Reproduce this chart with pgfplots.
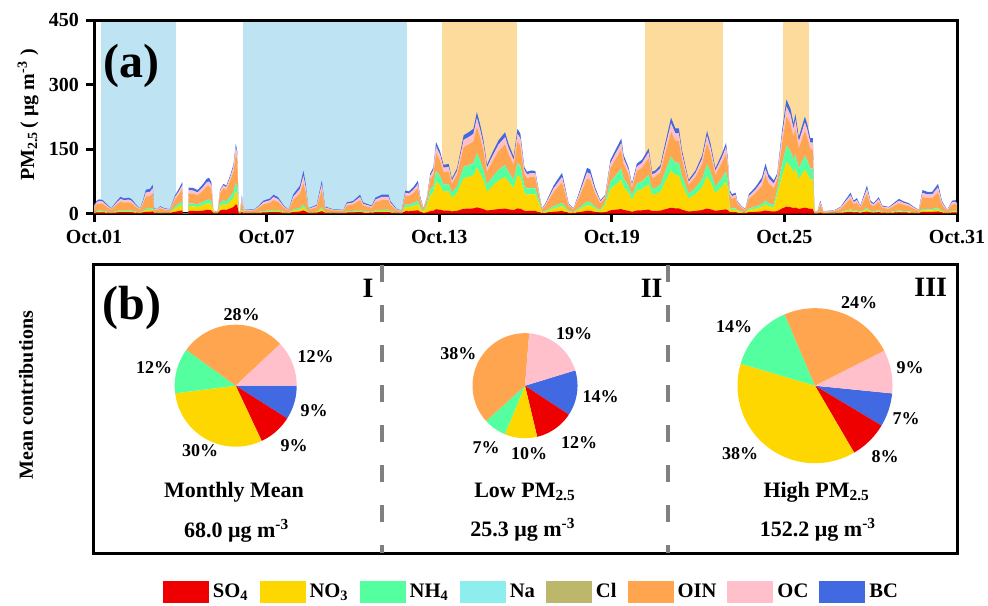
\documentclass[border=0pt]{standalone}
\usepackage{fontspec}
\setmainfont{Liberation Serif}
\usepackage{pgfplots}
\pgfplotsset{compat=1.18}
\usepackage{pgfplotstable}
\definecolor{cSO}{RGB}{238,0,0}
\definecolor{cNO}{RGB}{255,215,0}
\definecolor{cNH}{RGB}{84,255,159}
\definecolor{cNa}{RGB}{142,238,238}
\definecolor{cCl}{RGB}{189,183,107}
\definecolor{cOIN}{RGB}{255,165,79}
\definecolor{cOC}{RGB}{255,192,203}
\definecolor{cBC}{RGB}{65,105,225}
\definecolor{shB}{RGB}{190,227,242}
\definecolor{shO}{RGB}{252,219,156}
\definecolor{dgray}{RGB}{128,128,128}

\pgfplotstableread{
t so4 no3 nh4 na cl oin oc bc
0.00 1.4 1.4 1.0 0.3 0.2 10 3.4 2.4
0.10 2.1 2.1 1.5 0.3 0.2 15 5.1 3.6
0.17 2.3 2.3 1.7 0.3 0.2 16.5 5.6 4.0
0.30 2.2 2.2 1.6 0.3 0.2 16 5.4 3.8
0.42 1.6 1.6 1.2 0.3 0.2 11.5 3.9 2.8
0.60 0.8 0.8 0.6 0.3 0.2 6 2.0 1.4
0.80 2.1 2.1 1.5 0.3 0.2 15 5.1 3.6
0.92 2.7 2.7 2.0 0.3 0.2 19.5 6.6 4.7
1.05 2.5 2.5 1.8 0.3 0.2 17.5 6.0 4.2
1.20 2.6 2.6 1.9 0.3 0.2 18.5 6.3 4.4
1.30 2.4 2.4 1.7 0.3 0.2 17 5.8 4.1
1.45 1.5 1.5 1.1 0.3 0.2 11 3.7 2.6
1.60 0.8 0.8 0.6 0.3 0.2 6 2.0 1.4
1.70 2.1 2.1 1.5 0.3 0.2 15 5.1 3.6
1.80 3.9 3.9 2.8 0.3 0.2 28 9.5 6.7
1.95 4.1 4.1 2.9 0.3 0.2 29 9.9 7.0
2.04 4.8 4.8 3.4 0.3 0.2 34 11.6 8.2
2.09 0.8 0.8 0.6 0.3 0.2 6 2.0 1.4
2.20 0.7 0.7 0.5 0.3 0.2 5 1.7 1.2
2.30 1.2 1.2 0.9 0.3 0.2 8.5 2.9 2.0
2.45 0.8 0.8 0.6 0.3 0.2 6 2.0 1.4
2.64 0.7 0.7 0.5 0.3 0.2 5 1.7 1.2
2.82 4.3 7.7 4.3 0.3 0.2 16.3 5.2 4.3
2.95 5.8 10.4 5.8 0.3 0.2 22 7.0 5.8
3.07 7.4 13.3 7.4 0.3 0.2 28.1 8.9 7.4
3.09 0 0 0 0 0 0 0 0
3.27 0 0 0 0 0 0 0 0
3.29 6.1 11.0 6.1 0.3 0.2 23.2 7.3 6.1
3.45 6.0 10.8 6.0 0.3 0.2 22.8 7.2 6.0
3.60 5.5 9.9 5.5 0.3 0.2 20.9 6.6 5.5
3.80 7.0 12.6 7.0 0.3 0.2 26.6 8.4 7.0
3.92 8.2 14.8 8.2 0.3 0.2 31.2 9.8 8.2
4.00 8.4 15.1 8.4 0.3 0.2 31.9 10.1 8.4
4.08 7.4 13.3 7.4 0.3 0.2 28.1 8.9 7.4
4.15 0.6 1.1 0.6 0.3 0.2 2.3 0.7 0.6
4.30 0.5 0.9 0.5 0.3 0.2 1.9 0.6 0.5
4.38 7.2 9.9 6.6 0.3 0.2 22.6 5.0 2.8
4.50 9.1 12.6 8.4 0.3 0.2 28.7 6.3 3.5
4.60 8.5 11.7 7.8 0.3 0.2 26.7 5.9 3.3
4.73 11.6 16.0 10.7 0.3 0.2 36.5 8.0 4.5
4.85 15.1 20.9 13.9 0.3 0.2 47.6 10.4 5.8
4.93 21.5 29.7 19.8 0.3 0.2 67.7 14.9 8.3
4.98 19.1 26.5 17.6 0.3 0.2 60.3 13.2 7.4
5.03 0.4 0.4 0.3 0.3 0.2 2.5 0.9 0.6
5.08 0.4 0.4 0.3 0.3 0.2 2.5 0.9 0.6
5.14 3.0 3.0 2.2 0.3 0.2 21.5 7.3 5.2
5.20 0.6 0.6 0.4 0.3 0.2 4 1.4 1.0
5.60 0.7 0.7 0.5 0.3 0.2 5 1.7 1.2
5.75 1.4 1.4 1.0 0.3 0.2 10 3.4 2.4
5.89 2.1 2.1 1.5 0.3 0.2 15 5.1 3.6
6.12 2.5 2.5 1.8 0.3 0.2 17.5 6.0 4.2
6.24 3.1 3.1 2.2 0.3 0.2 22 7.5 5.3
6.40 2.7 2.7 1.9 0.3 0.2 19 6.5 4.6
6.58 1.4 1.4 1.0 0.3 0.2 10 3.4 2.4
6.76 0.6 0.6 0.4 0.3 0.2 4 1.4 1.0
6.93 3.2 3.2 2.3 0.3 0.2 22.5 7.7 5.4
7.16 4.6 4.6 3.3 0.3 0.2 33 11.2 7.9
7.28 7.1 7.1 5.1 0.3 0.2 50.5 17.2 12.1
7.36 4.9 4.9 3.5 0.3 0.2 35 11.9 8.4
7.45 0.8 0.8 0.6 0.3 0.2 6 2.0 1.4
7.74 1.4 1.4 1.0 0.3 0.2 10 3.4 2.4
7.92 5.5 5.5 3.9 0.3 0.2 39 13.3 9.4
8.03 1.1 1.1 0.8 0.3 0.2 8 2.7 1.9
8.30 0.7 0.7 0.5 0.3 0.2 5 1.7 1.2
8.67 0.6 0.6 0.4 0.3 0.2 4 1.4 1.0
8.79 1.8 1.8 1.3 0.3 0.2 13 4.4 3.1
9.00 2.0 2.0 1.5 0.3 0.2 14.5 4.9 3.5
9.25 3.1 3.1 2.2 0.3 0.2 22 7.5 5.3
9.35 1.8 1.8 1.3 0.3 0.2 13 4.4 3.1
9.66 1.3 1.3 0.9 0.3 0.2 9 3.1 2.2
9.78 2.6 2.6 1.9 0.3 0.2 18.5 6.3 4.4
10.00 3.1 3.1 2.2 0.3 0.2 22 7.5 5.3
10.24 3.1 3.1 2.2 0.3 0.2 22 7.5 5.3
10.30 2.0 2.0 1.5 0.3 0.2 14.5 4.9 3.5
10.53 0.7 0.7 0.5 0.3 0.2 5 1.7 1.2
10.70 0.5 0.5 0.4 0.3 0.2 3.5 1.2 0.8
10.82 5.4 9.7 5.4 0.3 0.2 20.5 6.5 5.4
10.95 5.2 9.4 5.2 0.3 0.2 19.8 6.2 5.2
11.10 6.2 11.2 6.2 0.3 0.2 23.6 7.4 6.2
11.26 7.7 13.9 7.7 0.3 0.2 29.3 9.2 7.7
11.34 4.0 7.2 4.0 0.3 0.2 15.2 4.8 4.0
11.45 1.2 2.2 1.2 0.3 0.2 4.6 1.4 1.2
11.57 2.2 14.4 5.2 0.3 0.2 9.3 3.3 2.2
11.69 5.6 36.3 13.0 0.5 0.5 23.3 8.4 5.6
11.80 6.5 42.1 15.1 0.5 0.5 27 9.7 6.5
11.89 10.0 64.7 23.2 0.8 0.8 41.5 14.9 10.0
12.03 8.7 56.6 20.3 0.7 0.7 36.3 13.1 8.7
12.15 6.8 44.1 15.8 0.6 0.6 28.3 10.2 6.8
12.33 6.9 44.9 16.1 0.6 0.6 28.8 10.4 6.9
12.44 4.9 31.6 11.3 0.4 0.4 20.3 7.3 4.9
12.62 6.3 41.0 14.7 0.5 0.5 26.3 9.5 6.3
12.85 10.9 71.0 25.5 0.9 0.9 45.5 16.4 10.9
13.02 11.3 73.7 26.5 0.9 0.9 47.3 17.0 11.3
13.19 11.8 76.8 27.6 1 1 49.3 17.7 11.8
13.31 14.2 92.0 33.0 1.2 1.2 59 21.2 14.2
13.43 12.3 80.0 28.7 1 1 51.3 18.5 12.3
13.54 10.2 66.3 23.8 0.9 0.9 42.5 15.3 10.2
13.66 7.0 44.0 16.0 0.6 0.6 28 10.2 6.8
13.83 8.3 54.2 19.5 0.7 0.7 34.8 12.5 8.3
14.06 10.2 66.3 23.8 0.9 0.9 42.5 15.3 10.2
14.29 11.3 73.7 26.5 0.9 0.9 47.3 17.0 11.3
14.41 9.7 63.2 22.7 0.8 0.8 40.5 14.6 9.7
14.59 7.9 51.5 18.5 0.7 0.7 33 11.9 7.9
14.72 11.8 76.8 27.6 1 1 49.3 17.7 11.8
14.82 11.2 72.5 26.0 0.9 0.9 46.5 16.7 11.2
14.96 6.5 42.1 15.1 0.5 0.5 27 9.7 6.5
15.05 5.8 37.8 13.6 0.5 0.5 24.3 8.7 5.8
15.20 6.0 39.0 14.0 0.5 0.5 25 9.0 6.0
15.34 5.9 38.6 13.9 0.5 0.5 24.8 8.9 5.9
15.46 3.2 21.1 7.6 0.3 0.3 13.5 4.9 3.2
15.57 0.7 1.4 0.8 0.3 0.2 6 1.6 1.2
15.69 1.4 2.8 1.6 0.3 0.2 11.5 3.0 2.3
15.98 4.0 7.9 4.6 0.3 0.2 33 8.6 6.6
16.27 5.8 11.5 6.7 0.3 0.2 48 12.5 9.6
16.38 3.7 7.4 4.3 0.3 0.2 31 8.1 6.2
16.50 1.4 2.8 1.6 0.3 0.2 11.5 3.0 2.3
16.67 0.7 1.4 0.8 0.3 0.2 6 1.6 1.2
16.85 2.8 5.6 3.3 0.3 0.2 23.5 6.1 4.7
17.14 6.5 13.0 7.6 0.3 0.2 54 14.0 10.8
17.25 6.2 12.5 7.3 0.3 0.2 52 13.5 10.4
17.42 3.7 7.4 4.3 0.3 0.2 31 8.1 6.2
17.60 1.9 3.7 2.2 0.3 0.2 15.5 4.0 3.1
17.77 2.6 16.8 6.0 0.3 0.2 10.8 3.9 2.6
17.95 7.4 48.4 17.4 0.6 0.6 31 11.2 7.4
18.12 8.8 57.3 20.6 0.7 0.7 36.8 13.2 8.8
18.33 10.4 67.9 24.4 0.9 0.9 43.5 15.7 10.4
18.41 8.2 53.0 19.0 0.7 0.7 34 12.2 8.2
18.58 6.5 42.1 15.1 0.5 0.5 27 9.7 6.5
18.70 4.2 27.3 9.8 0.4 0.4 17.5 6.3 4.2
18.87 7.0 45.2 16.2 0.6 0.6 29 10.4 7.0
19.05 7.5 48.8 17.5 0.6 0.6 31.3 11.3 7.5
19.28 9.1 58.9 21.1 0.8 0.8 37.8 13.6 9.1
19.40 5.8 37.8 13.6 0.5 0.5 24.3 8.7 5.8
19.51 6.0 39.0 14.0 0.5 0.5 25 9.0 6.0
19.69 6.7 43.7 15.7 0.6 0.6 28 10.1 6.7
19.80 8.8 57.3 20.6 0.7 0.7 36.8 13.2 8.8
20.06 13.4 87.0 31.2 1.1 1.1 55.8 20.1 13.4
20.21 11.9 77.2 27.7 1 1 49.5 17.8 11.9
20.33 11.9 77.2 27.7 1 1 49.5 17.8 11.9
20.44 8.8 57.3 20.6 0.7 0.7 36.8 13.2 8.8
20.67 4.7 30.4 10.9 0.4 0.4 19.5 7.0 4.7
20.91 6.0 39.0 14.0 0.5 0.5 25 9.0 6.0
21.14 8.1 52.7 18.9 0.7 0.7 33.8 12.2 8.1
21.31 11.5 74.9 26.9 1 1 48 17.3 11.5
21.43 9.8 63.6 22.8 0.8 0.8 40.8 14.7 9.8
21.60 6.3 41.0 14.7 0.5 0.5 26.3 9.5 6.3
21.83 8.3 54.2 19.5 0.7 0.7 34.8 12.5 8.3
21.97 9.8 64.0 23.0 0.8 0.8 41 14.8 9.8
22.03 7.9 51.1 18.3 0.7 0.7 32.8 11.8 7.9
22.10 3.3 6.6 3.9 0.3 0.2 27.5 7.2 5.5
22.18 2.7 5.4 3.2 0.3 0.2 22.5 5.9 4.5
22.30 2.9 5.9 3.4 0.3 0.2 24.5 6.4 4.9
22.37 1.7 3.4 2.0 0.3 0.2 14 3.6 2.8
22.53 1.0 1.9 1.1 0.3 0.2 8 2.1 1.6
22.64 0.6 1.2 0.7 0.3 0.2 5 1.3 1.0
22.76 2.7 5.4 3.2 0.3 0.2 22.5 5.9 4.5
22.99 3.7 7.4 4.3 0.3 0.2 31 8.1 6.2
23.22 5.1 10.2 6.0 0.3 0.2 42.5 11.1 8.5
23.34 7.1 14.2 8.3 0.3 0.2 59 15.3 11.8
23.45 5.6 11.2 6.5 0.3 0.2 46.5 12.1 9.3
23.63 4.7 9.4 5.5 0.3 0.2 39 10.1 7.8
23.75 5.6 36.3 13.0 0.5 0.5 23.3 8.4 5.6
23.92 11.6 75.3 27.0 1 1 48.3 17.4 11.6
24.07 15.9 103.4 37.1 1.3 1.3 66.3 23.9 15.9
24.21 14.6 95.2 34.2 1.2 1.2 61 22.0 14.6
24.32 12.5 81.5 29.3 1 1 52.3 18.8 12.5
24.38 13.9 90.5 32.5 1.2 1.2 58 20.9 13.9
24.50 10.7 69.4 24.9 0.9 0.9 44.5 16.0 10.7
24.71 13.5 87.8 31.5 1.1 1.1 56.3 20.3 13.5
24.79 12.5 81.5 29.3 1 1 52.3 18.8 12.5
24.90 10.5 68.3 24.5 0.9 0.9 43.8 15.8 10.5
24.99 10.5 68.3 24.5 0.9 0.9 43.8 15.8 10.5
25.04 0.4 0.4 0.3 0.3 0.2 2.5 0.9 0.6
25.15 0.4 0.4 0.3 0.3 0.2 2.5 0.9 0.6
25.25 2.1 2.1 1.5 0.3 0.2 15 5.1 3.6
25.35 0.4 0.4 0.3 0.3 0.2 2.5 0.9 0.6
25.72 0.5 0.5 0.4 0.3 0.2 3.5 1.2 0.8
25.95 1.1 1.1 0.8 0.3 0.2 7.5 2.6 1.8
26.30 3.4 3.4 2.5 0.3 0.2 24.5 8.3 5.9
26.41 2.1 2.1 1.5 0.3 0.2 15 5.1 3.6
26.52 2.5 2.5 1.8 0.3 0.2 18 6.1 4.3
26.64 1.3 1.3 0.9 0.3 0.2 9 3.1 2.2
26.87 4.6 4.6 3.3 0.3 0.2 33 11.2 7.9
26.99 2.1 2.1 1.5 0.3 0.2 15 5.1 3.6
27.10 1.7 1.7 1.2 0.3 0.2 12 4.1 2.9
27.28 2.7 2.7 1.9 0.3 0.2 19 6.5 4.6
27.40 1.3 1.3 0.9 0.3 0.2 9 3.1 2.2
27.63 1.1 1.1 0.8 0.3 0.2 7.5 2.6 1.8
27.98 2.4 2.4 1.7 0.3 0.2 17 5.8 4.1
28.15 2.0 2.0 1.4 0.3 0.2 14 4.8 3.4
28.32 1.7 1.7 1.2 0.3 0.2 12 4.1 2.9
28.50 1.1 1.1 0.8 0.3 0.2 7.5 2.6 1.8
28.67 0.6 0.6 0.4 0.3 0.2 4 1.4 1.0
28.80 3.9 3.9 2.8 0.3 0.2 27.5 9.4 6.6
28.96 3.6 3.6 2.6 0.3 0.2 25.5 8.7 6.1
29.14 3.6 3.6 2.6 0.3 0.2 25.5 8.7 6.1
29.34 4.9 4.9 3.5 0.3 0.2 35 11.9 8.4
29.48 2.0 2.0 1.4 0.3 0.2 14 4.8 3.4
29.66 0.6 0.6 0.4 0.3 0.2 4 1.4 1.0
29.83 2.1 2.1 1.5 0.3 0.2 15 5.1 3.6
29.95 2.2 2.2 1.6 0.3 0.2 15.5 5.3 3.7
30.00 1.8 1.8 1.3 0.3 0.2 12.5 4.3 3.0
}\tsdata

% pie slice: cx, cy, r, start angle, end angle, colour
\newcommand{\slice}[6]{%
  \addplot[fill=#6, draw=none, domain=#4:#5, samples=60]
    ({#1+#3*cos(x)},{#2+#3*sin(x)}) -- (axis cs:#1,#2) -- cycle;}

\begin{document}
\begin{tikzpicture}[font=\bfseries]
\useasboundingbox (0pt,0pt) rectangle (494pt,-302.5pt);

% ---------- panel (a): shaded periods ----------
\begin{axis}[at={(47pt,-106.75pt)}, anchor=south west, scale only axis,
  width=431.5pt, height=96.75pt, xmin=0, xmax=30, ymin=0, ymax=450, hide axis]
  \addplot[fill=shB, draw=none] coordinates {(0.24,450) (2.85,450)} \closedcycle;
  \addplot[fill=shB, draw=none] coordinates {(5.18,450) (10.88,450)} \closedcycle;
  \addplot[fill=shO, draw=none] coordinates {(12.09,450) (14.70,450)} \closedcycle;
  \addplot[fill=shO, draw=none] coordinates {(19.14,450) (21.85,450)} \closedcycle;
  \addplot[fill=shO, draw=none] coordinates {(23.94,450) (24.87,450)} \closedcycle;
\end{axis}

% ---------- panel (a): stacked series ----------
\begin{axis}[at={(47pt,-106.75pt)}, anchor=south west, scale only axis,
  width=431.5pt, height=96.75pt, xmin=0, xmax=30, ymin=0, ymax=450,
  stack plots=y,
  xtick={0,6,12,18,24,30},
  xticklabels={Oct.01,Oct.07,Oct.13,Oct.19,Oct.25,Oct.31},
  ytick={0,150,300,450},
  tick align=outside, tick pos=left,
  major tick length=4pt,
  every tick/.style={black, line width=1.5pt},
  axis line style={line width=1.5pt},
  /pgf/number format/assume math mode=true,
  tick label style={font=\fontsize{10}{12}\selectfont\bfseries},
  xticklabel style={yshift=-1pt},
  legend columns=8,
  legend style={at={(0.504,-1.956)}, anchor=center, draw=none, fill=none,
    font=\fontsize{10.3}{12}\selectfont\bfseries,
    /tikz/every odd column/.append style={column sep=0pt},
    /tikz/every even column/.append style={column sep=0pt}},
  legend image code/.code={\path (0pt,0pt); \path[#1, draw=none] (3.5pt,-5.5pt) rectangle (26.5pt,5.5pt);},
]
  \addplot[fill=cSO, draw=none] table[x=t, y=so4] {\tsdata} \closedcycle;
  \addplot[fill=cNO, draw=none] table[x=t, y=no3] {\tsdata} \closedcycle;
  \addplot[fill=cNH, draw=none] table[x=t, y=nh4] {\tsdata} \closedcycle;
  \addplot[fill=cNa, draw=none] table[x=t, y=na] {\tsdata} \closedcycle;
  \addplot[fill=cCl, draw=none] table[x=t, y=cl] {\tsdata} \closedcycle;
  \addplot[fill=cOIN, draw=none] table[x=t, y=oin] {\tsdata} \closedcycle;
  \addplot[fill=cOC, draw=none] table[x=t, y=oc] {\tsdata} \closedcycle;
  \addplot[fill=cBC, draw=none] table[x=t, y=bc] {\tsdata} \closedcycle;
  \legend{SO\textsubscript{4}, NO\textsubscript{3}, NH\textsubscript{4}, Na, Cl, OIN, OC, BC}
\end{axis}

% ---------- panel (b): pies ----------
\begin{axis}[at={(46.5pt,-276.5pt)}, anchor=south west, scale only axis,
  width=432pt, height=144pt, xmin=93, xmax=957, ymin=-553, ymax=-265,
  xtick=\empty, ytick=\empty, axis line style={line width=1.5pt}]
  \addplot[dgray, line width=2pt, dash pattern=on 8.3pt off 11.7pt] coordinates {(382,-265) (382,-553)};
  \addplot[dgray, line width=2pt, dash pattern=on 8.3pt off 11.7pt] coordinates {(668,-265) (668,-553)};
  % Monthly mean: BC 9, SO4 9, NO3 30, NH4 12, OIN 28, OC 12 (clockwise from 0 deg)
  \slice{235.7}{-385.7}{61}{-32.4}{0}{cBC}
  \slice{235.7}{-385.7}{61}{-64.8}{-32.4}{cSO}
  \slice{235.7}{-385.7}{61}{-172.8}{-64.8}{cNO}
  \slice{235.7}{-385.7}{61}{-216}{-172.8}{cNH}
  \slice{235.7}{-385.7}{61}{-316.8}{-216}{cOIN}
  \slice{235.7}{-385.7}{61}{-360}{-316.8}{cOC}
  % Low PM2.5: BC 14, SO4 12, NO3 10, NH4 7, OIN 38, OC 19
  \slice{525}{-385.7}{52.5}{-33.4}{17}{cBC}
  \slice{525}{-385.7}{52.5}{-76.6}{-33.4}{cSO}
  \slice{525}{-385.7}{52.5}{-112.6}{-76.6}{cNO}
  \slice{525}{-385.7}{52.5}{-137.8}{-112.6}{cNH}
  \slice{525}{-385.7}{52.5}{-274.6}{-137.8}{cOIN}
  \slice{525}{-385.7}{52.5}{-343}{-274.6}{cOC}
  % High PM2.5: BC 7, SO4 8, NO3 38, NH4 14, OIN 24, OC 9
  \slice{815}{-385.7}{77.5}{-30.9}{-5.7}{cBC}
  \slice{815}{-385.7}{77.5}{-59.7}{-30.9}{cSO}
  \slice{815}{-385.7}{77.5}{-196.5}{-59.7}{cNO}
  \slice{815}{-385.7}{77.5}{-246.9}{-196.5}{cNH}
  \slice{815}{-385.7}{77.5}{-333.3}{-246.9}{cOIN}
  \slice{815}{-385.7}{77.5}{-365.7}{-333.3}{cOC}
\end{axis}

% ---------- text (pixel coordinates of the reference) ----------
\begin{scope}[x=0.5pt, y=-0.5pt]
  \node[rotate=90, font=\fontsize{10}{12}\selectfont\bfseries] at (28,115)
    {PM\textsubscript{2.5}\,( μg m\textsuperscript{-3} )};
  \node[font=\fontsize{24}{26}\selectfont\bfseries] at (131.5,66) {(a)};
  \node[rotate=90, font=\fontsize{10}{12}\selectfont\bfseries] at (26,395) {Mean contributions};
  \node[font=\fontsize{24}{26}\selectfont\bfseries] at (131.7,308) {(b)};
  \node[font=\fontsize{14}{16}\selectfont\bfseries] at (368,288) {I};
  \node[font=\fontsize{14}{16}\selectfont\bfseries] at (651.7,288) {II};
  \node[font=\fontsize{14}{16}\selectfont\bfseries] at (930.7,287) {III};
  \begin{scope}[every node/.style={font=\fontsize{9}{11}\selectfont\bfseries}]
    \node at (241.7,315) {28\%};
    \node at (315.7,356.7) {12\%};
    \node at (314,411) {9\%};
    \node at (294,445.7) {9\%};
    \node at (200,450.7) {30\%};
    \node at (154,367.7) {12\%};
    \node at (574,334) {19\%};
    \node at (600.7,396.7) {14\%};
    \node at (579,443) {12\%};
    \node at (529,454) {10\%};
    \node at (486,447.7) {7\%};
    \node at (458.3,354) {38\%};
    \node at (859,303) {24\%};
    \node at (910,368) {9\%};
    \node at (906,419) {7\%};
    \node at (885,456.7) {8\%};
    \node at (740,454) {38\%};
    \node at (734,326.7) {14\%};
  \end{scope}
  \begin{scope}[every node/.style={font=\fontsize{11}{13}\selectfont\bfseries}]
    \node at (234,492) {Monthly Mean};
    \node at (236.7,531) {68.0 μg m\textsuperscript{-3}};
    \node at (525,492) {Low PM\textsubscript{2.5}};
    \node at (523,530) {25.3 μg m\textsuperscript{-3}};
    \node at (816.7,492) {High PM\textsubscript{2.5}};
    \node at (818,530) {152.2 μg m\textsuperscript{-3}};
  \end{scope}
\end{scope}
\end{tikzpicture}
\end{document}
